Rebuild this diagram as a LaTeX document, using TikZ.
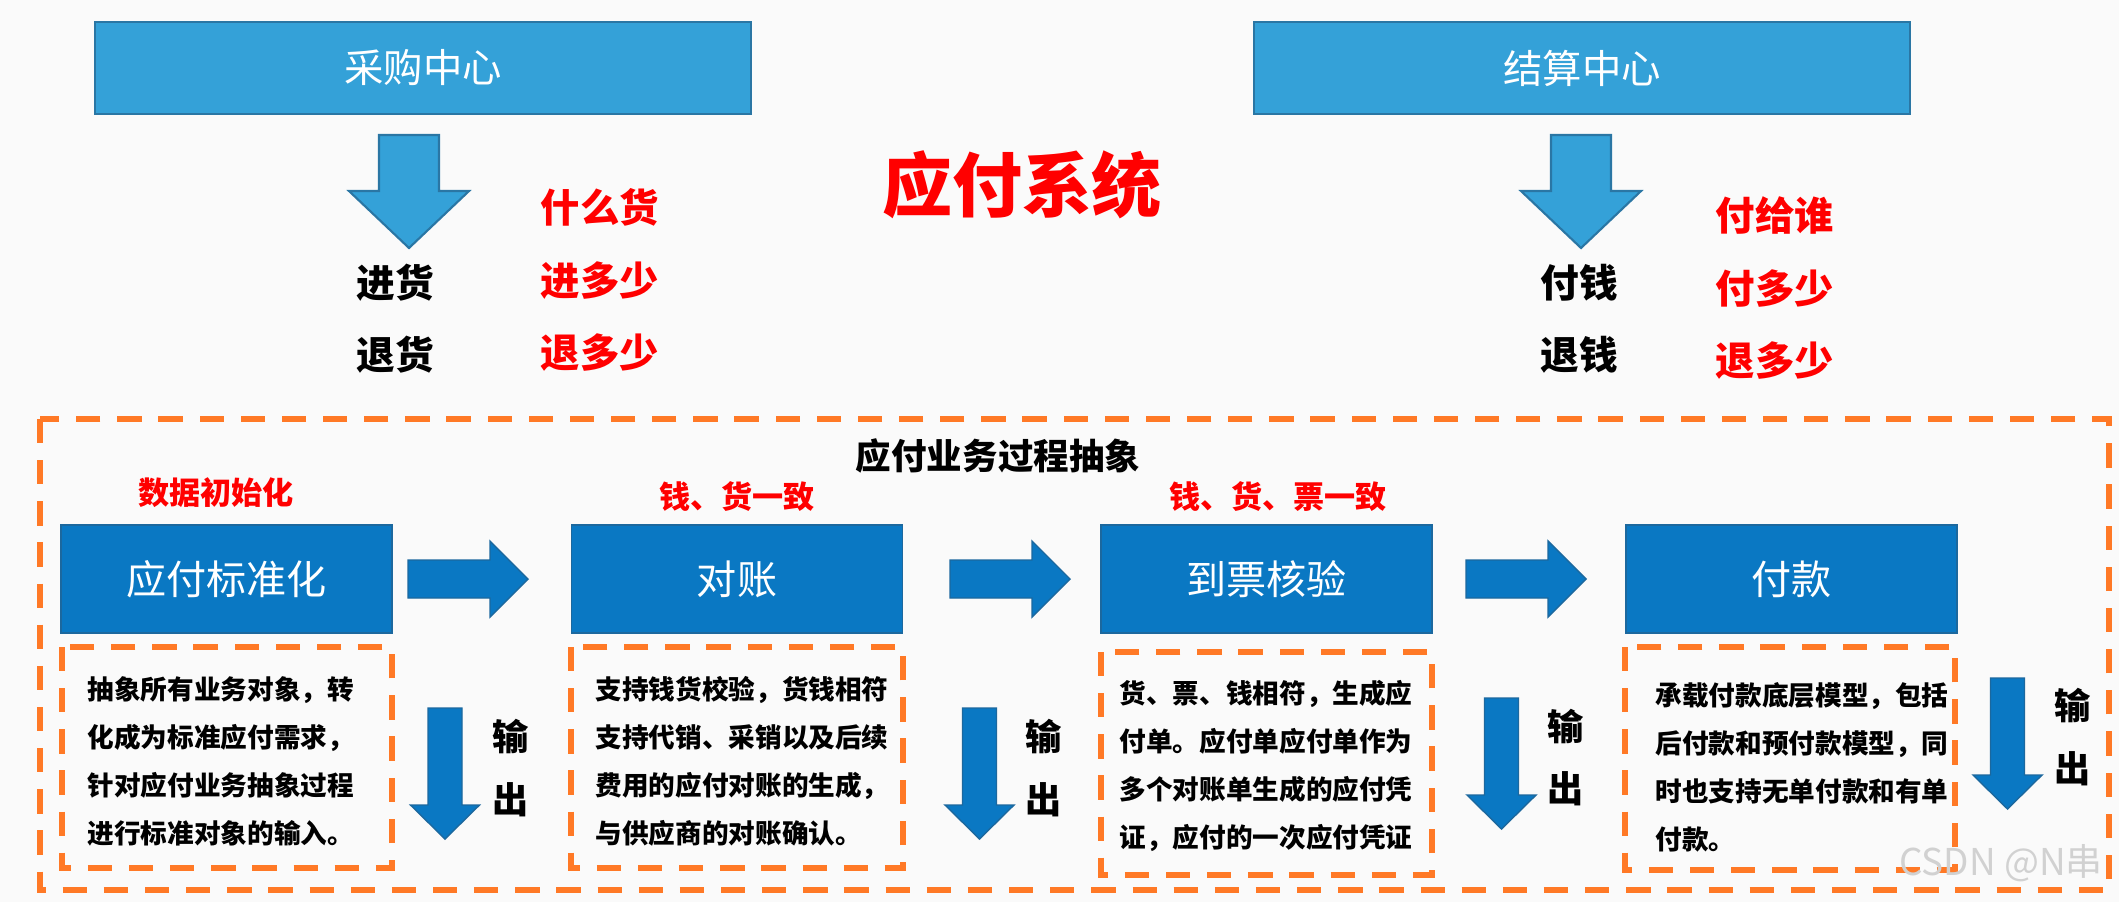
\documentclass[tikz,border=0pt]{standalone}
\usepackage{fontspec}
\newfontfamily\cjk{Noto Sans CJK SC}
\definecolor{bg}{RGB}{250,250,250}
\definecolor{topblue}{RGB}{52,161,216}
\definecolor{topedge}{RGB}{42,118,164}
\definecolor{procblue}{RGB}{10,120,195}
\definecolor{procedge}{RGB}{28,104,158}
\definecolor{orng}{RGB}{255,121,38}
\definecolor{redtxt}{RGB}{255,0,0}
\tikzset{
  topbox/.style={draw=topedge, line width=0.6pt, fill=topblue, text=white,
    font=\cjk\fontsize{11.2pt}{13pt}\selectfont, minimum width=6.56cm, minimum height=0.92cm, inner sep=0},
  procbox/.style={draw=procedge, line width=0.5pt, fill=procblue, text=white,
    font=\cjk\fontsize{11.4pt}{13pt}\selectfont, minimum width=3.31cm, minimum height=1.08cm, inner sep=0},
  orangedash/.style={draw=orng, line width=1.5pt, dash pattern=on 6.9pt off 4.8pt},
  redlbl/.style={text=redtxt, inner sep=0, font=\cjk\bfseries\fontsize{11.2pt}{13pt}\selectfont},
  blacklbl/.style={text=black, inner sep=0, font=\cjk\bfseries\fontsize{11pt}{13pt}\selectfont},
  steplbl/.style={text=redtxt, inner sep=0, font=\cjk\bfseries\fontsize{8.85pt}{10pt}\selectfont},
  outlbl/.style={text=black, inner sep=0, font=\cjk\bfseries\fontsize{10.3pt}{12pt}\selectfont},
  desctxt/.style={anchor=west, align=left, inner sep=0, text=black,
    font=\cjk\bfseries\fontsize{7.57pt}{13.66pt}\selectfont},
  arrowfill/.style={fill=procblue, draw=procedge, line width=0.4pt},
  toparrowfill/.style={fill=topblue, draw=topedge, line width=0.6pt},
  rarrow/.pic={\draw[arrowfill] (0,-19) -- (82,-19) -- (82,-38) -- (120,0) -- (82,38) -- (82,19) -- (0,19) -- cycle;},
  outarrow/.pic={\draw[arrowfill] (-17,0) -- (17,0) -- (17,97) -- (34.5,97) -- (0,131) -- (-34.5,97) -- (-17,97) -- cycle;},
  topdown/.pic={\draw[toparrowfill] (-30,0) -- (30,0) -- (30,56) -- (60,56) -- (0,113) -- (-60,56) -- (-30,56) -- cycle;}
}
\begin{document}
\begin{tikzpicture}[x=0.01cm,y=-0.01cm]
\useasboundingbox (0,0) rectangle (2119,902);
\fill[bg] (0,0) rectangle (2119,902);

% top boxes
\node[topbox] (cg) at (423,68) {采购中心};
\node[topbox] (js) at (1582,68) {结算中心};
\pic at (409,135) {topdown};
\pic at (1581,135) {topdown};

\node[text=redtxt, inner sep=0, font=\cjk\bfseries\fontsize{19.9pt}{22pt}\selectfont] (title) at (1022,185) {应付系统};

\node[redlbl] (q1) at (600,207) {什么货};
\node[blacklbl] (jh) at (395,283) {进货};
\node[redlbl] (q2) at (600,281) {进多少};
\node[blacklbl] (th) at (395,355) {退货};
\node[redlbl] (q3) at (600,352) {退多少};

\node[redlbl] (p1) at (1775,215) {付给谁};
\node[blacklbl] (fq) at (1579,283) {付钱};
\node[redlbl] (p2) at (1775,288) {付多少};
\node[blacklbl] (tq) at (1579,355) {退钱};
\node[redlbl] (p3) at (1775,360) {退多少};

% outer frame
\draw[orangedash] (40,419) rectangle (2109,890);
\node[text=black, inner sep=0, font=\cjk\bfseries\fontsize{10.1pt}{12pt}\selectfont] (abs) at (998,456) {应付业务过程抽象};

\node[steplbl] (s1) at (216,493) {数据初始化};
\node[steplbl] (s2) at (737,497) {钱、货一致};
\node[steplbl] (s3) at (1278,497) {钱、货、票一致};

% process boxes
\node[procbox] (b1) at (226.5,579) {应付标准化};
\node[procbox] (b2) at (737,579) {对账};
\node[procbox] (b3) at (1266.5,579) {到票核验};
\node[procbox] (b4) at (1791.5,579) {付款};

\pic at (408,579) {rarrow};
\pic at (950,579) {rarrow};
\pic at (1466,579) {rarrow};

% description boxes
\draw[orangedash] (62,647) rectangle (392,868);
\draw[orangedash] (571,647) rectangle (903,868);
\draw[orangedash] (1101,652) rectangle (1432,875);
\draw[orangedash] (1625,647) rectangle (1955,870);

\node[desctxt] (d1) at (87,761) {抽象所有业务对象，转\\化成为标准应付需求，\\针对应付业务抽象过程\\进行标准对象的输入。};
\node[desctxt] (d2) at (595,761) {支持钱货校验，货钱相符\\支持代销、采销以及后续\\费用的应付对账的生成，\\与供应商的对账确认。};
\node[desctxt] (d3) at (1119,765.5) {货、票、钱相符，生成应\\付单。应付单应付单作为\\多个对账单生成的应付凭\\证，应付的一次应付凭证};
\node[desctxt] (d4) at (1655,767.5) {承载付款底层模型，包括\\后付款和预付款模型，同\\时也支持无单付款和有单\\付款。};

% output arrows
\pic at (445,708) {outarrow};
\pic at (979.5,708) {outarrow};
\pic at (1501.5,698) {outarrow};
\pic at (2007.5,678) {outarrow};

\node[outlbl] (o1a) at (511,736) {输};
\node[outlbl] (o1b) at (511,800) {出};
\node[outlbl] (o2a) at (1044,736) {输};
\node[outlbl] (o2b) at (1044,800) {出};
\node[outlbl] (o3a) at (1566,726) {输};
\node[outlbl] (o3b) at (1566,789) {出};
\node[outlbl] (o4a) at (2073,705) {输};
\node[outlbl] (o4b) at (2073,769) {出};

\node[inner sep=0, text=black!18, font=\cjk\fontsize{10.5pt}{12pt}\selectfont] (wm) at (2001,863) {CSDN @N串};
\end{tikzpicture}
\end{document}
